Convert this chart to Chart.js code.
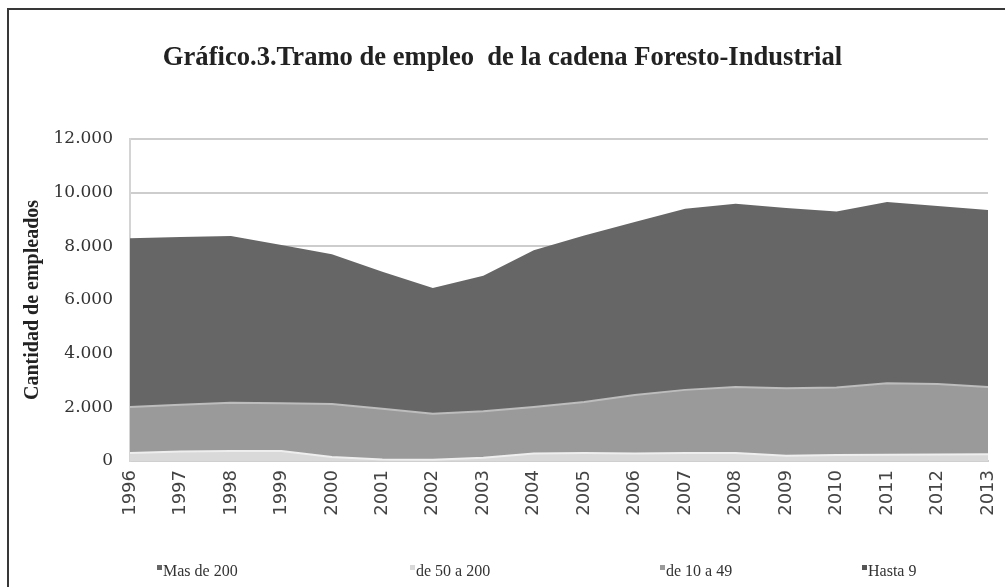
<!DOCTYPE html>
<html>
<head>
<meta charset="utf-8">
<script src="https://cdn.jsdelivr.net/npm/chart.js@4"></script>
<style>
  html, body { margin: 0; padding: 0; background: #fff; }
  #wrap { position: absolute; left: 0; top: 0; width: 1005px; height: 587px; }
  #frame {
    position: absolute; left: 7px; top: 8px; width: 1100px; height: 700px;
    border-left: 2px solid #383838; border-top: 2px solid #383838;
    pointer-events: none;
  }
</style>
</head>
<body>
<div id="wrap">
  <canvas id="myChart" width="1005" height="587"></canvas>
  <div id="frame"></div>
</div>
<script>
const years = ["1996", "1997", "1998", "1999", "2000", "2001", "2002", "2003", "2004",
  "2005", "2006", "2007", "2008", "2009", "2010", "2011", "2012", "2013"];

// employees per size band, stacked from the bottom up
const de50a200 = [300, 350, 370, 370, 150, 60, 50, 120, 280, 300, 280, 300, 300, 200, 220, 230, 240, 250];
const de10a49 = [1710, 1750, 1800, 1780, 1970, 1890, 1710, 1730, 1730, 1900, 2180, 2350, 2460, 2510, 2520, 2670, 2630, 2510];
const masDe200 = [6290, 6250, 6210, 5900, 5580, 5100, 4690, 5050, 5840, 6200, 6440, 6750, 6820, 6720, 6560, 6750, 6630, 6590];
const hasta9 = [0, 0, 0, 0, 0, 0, 0, 0, 0, 0, 0, 0, 0, 0, 0, 0, 0, 0];

const yTicks = [0, 2000, 4000, 6000, 8000, 10000, 12000];
const legendOrder = ["Mas de 200", "de 50 a 200", "de 10 a 49", "Hasta 9"];
const legendX = [157, 410, 660, 862];

// legend spread across the bottom of the frame, one slot per band
const spreadLegend = {
  id: "spreadLegend",
  afterDraw: function (chart) {
    const c = chart.ctx;
    c.save();
    c.font = "16px 'Liberation Serif'";
    c.textBaseline = "middle";
    legendOrder.forEach(function (name, i) {
      const ds = chart.data.datasets.find(function (d) { return d.label === name; });
      c.fillStyle = ds.backgroundColor;
      c.fillRect(legendX[i], 565, 5, 5);
      c.fillStyle = "#333";
      c.fillText(name, legendX[i] + 6, 572);
    });
    c.restore();
  },
};

window.addEventListener("load", function () {
  const ctx = document.getElementById("myChart");

  function area(label, data, fill, color, edge) {
    return {
      label: label,
      data: data,
      fill: fill,
      backgroundColor: color,
      borderColor: edge || color,
      borderWidth: edge ? 2 : 0,
      pointRadius: 0,
      tension: 0,
    };
  }

  new Chart(ctx, {
    type: "line",
    data: {
      labels: years,
      datasets: [
        area("de 50 a 200", de50a200, "origin", "#d9d9d9", "#eeeeee"),
        area("de 10 a 49", de10a49, "-1", "#9a9a9a", "#bdbdbd"),
        area("Mas de 200", masDe200, "-1", "#666666"),
        area("Hasta 9", hasta9, "-1", "#555555"),
      ],
    },
    options: {
      responsive: false,
      animation: false,
      layout: { padding: { left: 8, right: 8, top: 0, bottom: 0 } },
      plugins: {
        title: {
          display: true,
          text: "Gráfico.3.Tramo de empleo  de la cadena Foresto-Industrial",
          color: "#222",
          font: { family: "Liberation Serif", size: 26.6, weight: "bold" },
          padding: { top: 42, bottom: 65 },
        },
        legend: { display: false },
        tooltip: { enabled: false },
      },
      scales: {
        x: {
          offset: false,
          grid: { display: false, drawTicks: false },
          border: { color: "#cfcfcf", width: 2 },
          ticks: {
            color: "#444",
            font: { family: "DejaVu Sans", size: 18 },
            minRotation: 90,
            maxRotation: 90,
            autoSkip: false,
            padding: 9,
          },
          afterFit: function (scale) {
            scale.height = 126;
            scale.paddingLeft = 0;
            scale.paddingRight = 17;
          },
        },
        y: {
          stacked: true,
          min: 0,
          max: 12000,
          afterBuildTicks: function (scale) {
            scale.ticks = yTicks.map(function (v) { return { value: v }; });
          },
          grid: { color: "#cdcdcd", lineWidth: 2, drawTicks: false },
          border: { color: "#d4d4d4", width: 2 },
          ticks: {
            color: "#333",
            font: { family: "DejaVu Serif", size: 17 },
            padding: 17,
            autoSkip: false,
            callback: function (v) {
              return v.toLocaleString("de-DE");
            },
          },
          title: {
            display: true,
            text: "Cantidad de empleados",
            color: "#222",
            font: { family: "Liberation Serif", size: 20, weight: "bold" },
            padding: { top: 13, bottom: 0 },
          },
          afterFit: function (scale) {
            scale.width = 122;
          },
        },
      },
    },
    plugins: [spreadLegend],
  });
});
</script>
</body>
</html>
